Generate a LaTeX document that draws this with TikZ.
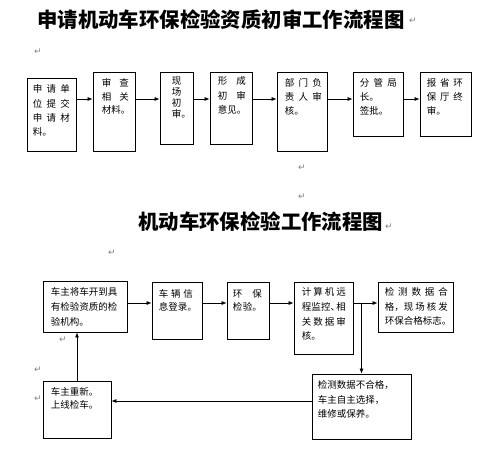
\documentclass[tikz,border=0pt]{standalone}
\usepackage{fontspec}
\usetikzlibrary{arrows.meta}
\newfontfamily\cjk{Noto Sans CJK SC}
\newfontfamily\mkfont{DejaVu Sans}

\tikzset{
  box/.style={draw, line width=0.8pt, inner sep=0pt},
  txt/.style={inner sep=0pt, align=left, anchor=north west, font=\cjk\fontsize{9.5pt}{#1}\selectfont},
  txt/.default=14pt,
  ttl/.style={inner sep=0pt, anchor=west, font=\cjk\bfseries\fontsize{20.4pt}{24pt}\selectfont},
  pmark/.style={inner sep=0pt, text=gray, font=\mkfont\fontsize{9pt}{10pt}\selectfont},
  arr/.style={line width=0.7pt, -{Latex[length=5pt,width=4pt]}}
}

\begin{document}
\begin{tikzpicture}[x=1pt,y=-1pt]
  \useasboundingbox (0,0) rectangle (484,468);

  % first chart
  \node[ttl] (title1) at (37,20) {申请机动车环保检验资质初审工作流程图};

  \node[box, minimum width=49pt, minimum height=73pt] (sq1) at (51.5,114.5) {};
  \node[box, minimum width=42pt, minimum height=79pt] (sq2) at (114,111.5) {};
  \node[box, minimum width=33pt, minimum height=72pt] (sq3) at (176.5,108) {};
  \node[box, minimum width=42pt, minimum height=72pt] (sq4) at (231,108) {};
  \node[box, minimum width=50pt, minimum height=79pt] (sq5) at (302,111.5) {};
  \node[box, minimum width=50pt, minimum height=64pt] (sq6) at (378,104) {};
  \node[box, minimum width=51pt, minimum height=64pt] (sq7) at (445.5,104) {};

  \node[txt=14.3pt, text width=37pt] (tx1) at ([xshift=6pt,yshift=-7pt]sq1.north west)
    {申\hfill 请\hfill 单\\位\hfill 提\hfill 交\\申\hfill 请\hfill 材\\料。};
  \node[txt=13.5pt, text width=27pt] (tx2) at ([xshift=9pt,yshift=-7pt]sq2.north west)
    {审\hfill 查\\相\hfill 关\\材料。};
  \node[txt=11pt, text width=10pt] (tx3) at ([xshift=12pt,yshift=-5pt]sq3.north west)
    {现\\场\\初\\审。};
  \node[txt=14.5pt, text width=28pt] (tx4) at ([xshift=8pt,yshift=-5pt]sq4.north west)
    {形\hfill 成\\初\hfill 审\\意见。};
  \node[txt, text width=37pt] (tx5) at ([xshift=8pt,yshift=-7pt]sq5.north west)
    {部\hfill 门\hfill 负\\责\hfill 人\hfill 审\\核。};
  \node[txt, text width=37pt] (tx6) at ([xshift=7pt,yshift=-7pt]sq6.north west)
    {分\hfill 管\hfill 局\\长。\\签批。};
  \node[txt, text width=36pt] (tx7) at ([xshift=7pt,yshift=-7pt]sq7.north west)
    {报\hfill 省\hfill 环\\保\hfill 厅\hfill 终\\审。};

  \coordinate (r1) at (0,99);
  \draw[arr] (sq1.east |- r1) -- (sq2.west |- r1);
  \draw[arr] (sq2.east |- r1) -- (sq3.west |- r1);
  \draw[arr] (sq3.east |- r1) -- (sq4.west |- r1);
  \draw[arr] (sq4.east |- r1) -- (sq5.west |- r1);
  \draw[arr] (sq5.east |- r1) -- (sq6.west |- r1);
  \draw[arr] (sq6.east |- r1) -- (sq7.west |- r1);

  % second chart
  \node[ttl] (title2) at (138,222) {机动车环保检验工作流程图};

  \node[box, minimum width=84pt, minimum height=51pt] (sqA) at (85,306.5) {};
  \node[box, minimum width=50pt, minimum height=57pt] (sqB) at (177,310.5) {};
  \node[box, minimum width=42pt, minimum height=57pt] (sqC) at (248,310.5) {};
  \node[box, minimum width=59pt, minimum height=72pt] (sqD) at (323.5,318) {};
  \node[box, minimum width=75pt, minimum height=50pt] (sqE) at (415.5,307) {};
  \node[box, minimum width=68pt, minimum height=57pt] (sqF) at (77,409.5) {};
  \node[box, minimum width=99pt, minimum height=65pt] (sqG) at (361.5,406.5) {};

  \node[txt=15pt, text width=69pt] (txA) at ([xshift=8pt,yshift=-7pt]sqA.north west)
    {车主将车开到具\\有检验资质的检\\验机构。};
  \node[txt=13pt, text width=34pt] (txB) at ([xshift=7pt,yshift=-8pt]sqB.north west)
    {车\hfill 辆\hfill 信\\息登录。};
  \node[txt=13pt, text width=29pt] (txC) at ([xshift=6pt,yshift=-8pt]sqC.north west)
    {环\hfill 保\\检\hfill 验。};
  \node[txt=14.7pt, text width=44pt] (txD) at ([xshift=8pt,yshift=-6pt]sqD.north west)
    {计\hfill 算\hfill 机\hfill 远\\程\hfill 监\hfill 控、\kern-4pt\hfill 相\\关\hfill 数\hfill 据\hfill 审\\核。};
  \node[txt=14.5pt, text width=63pt] (txE) at ([xshift=7pt,yshift=-6pt]sqE.north west)
    {检\hfill 测\hfill 数\hfill 据\hfill 合\\格，\kern-2pt\hfill 现\hfill 场\hfill 核\hfill 发\\环保合格标志。};
  \node[txt=13pt, text width=60pt] (txF) at ([xshift=8pt,yshift=-7pt]sqF.north west)
    {车主重新。\\上线检车。};
  \node[txt=14.5pt, text width=90pt] (txG) at ([xshift=6pt,yshift=-7pt]sqG.north west)
    {检测数据不合格，\\车主自主选择，\\维修或保养。};

  \coordinate (r2) at (0,303);
  \coordinate (r3) at (0,401);
  \draw[arr] (sqA.east |- r2) -- (sqB.west |- r2);
  \draw[arr] (sqB.east |- r2) -- (sqC.west |- r2);
  \draw[arr] (sqC.east |- r2) -- (sqD.west |- r2);
  \draw[arr] (sqD.east |- r2) -- (sqE.west |- r2);
  \draw[arr] (sqD.east |- r2) -| (sqG.north);
  \draw[arr] (sqG.west |- r3) -- (sqF.east |- r3);
  \draw[arr] (sqF.north) -- (sqF.north |- sqA.south);

  % paragraph marks
  \node[pmark] (pm1) at (413,21) {↵};
  \node[pmark] (pm2) at (38,52) {↵};
  \node[pmark] (pm3) at (302,168) {↵};
  \node[pmark] (pm4) at (302,197) {↵};
  \node[pmark] (pm5) at (389,227) {↵};
  \node[pmark] (pm6) at (112,253) {↵};
  \node[pmark] (pm7) at (63,340) {↵};
  \node[pmark] (pm8) at (38,370) {↵};
  \node[pmark] (pm9) at (38,399) {↵};
\end{tikzpicture}
\end{document}
